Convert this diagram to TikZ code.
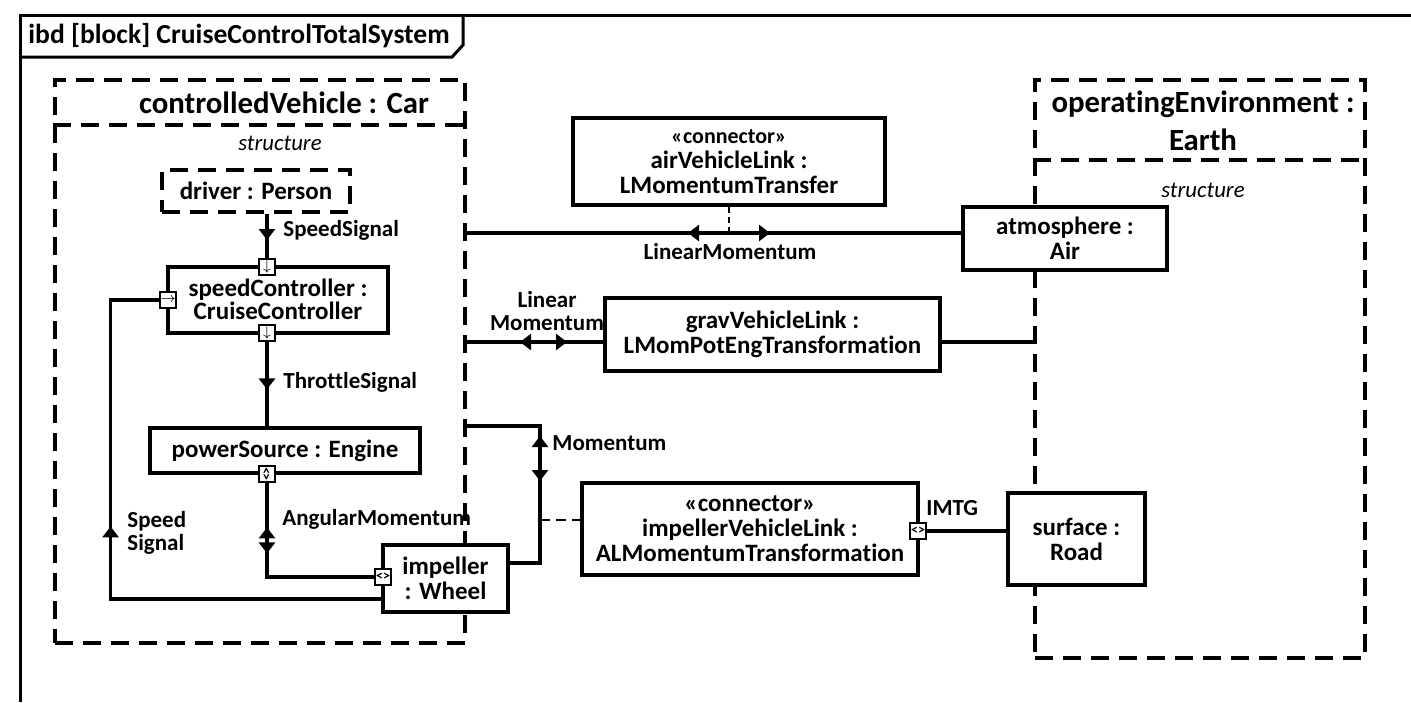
\documentclass[tikz,border=0pt]{standalone}
\usepackage{fontspec}
\setmainfont{Carlito}[Ligatures=NoCommon]
\usetikzlibrary{arrows.meta}
\usetikzlibrary{calc}
\usetikzlibrary{positioning}
\usetikzlibrary{decorations.markings}

\begin{document}
\begin{tikzpicture}[
        x=0.5pt, y=-0.5pt,
        flow/.tip={Triangle[length=5.5pt, width=8pt]},
        partbox/.style={
            rectangle, draw=black, line width=2pt, fill=white,
            align=center, inner sep=0pt,
            font=\bfseries\fontsize{12.5}{12.5}\selectfont,
        },
        dashbox/.style={partbox, fill=none, dash pattern=on 9pt off 5pt},
        port/.style={
            rectangle, draw=black, fill=white, line width=1.4pt,
            minimum size=8pt, inner sep=0pt,
            font=\bfseries\fontsize{7}{7}\selectfont,
        },
        wire/.style={line width=1.6pt},
        flowlbl/.style={
            font=\bfseries\fontsize{11.5}{11.5}\selectfont,
            align=left, inner sep=1pt,
        },
        marks/.style={postaction={decorate}, decoration={markings, #1}},
    ]
        \useasboundingbox (0,0) rectangle (1411,702);

        % diagram frame
        \draw[line width=1.5pt] (20,702) -- (20,15) -- (1411,15);
        \draw[line width=1.5pt] (20,57) -- (452,57) -- (463,45) -- (463,15);
        \node (title) at(28,36) [
            anchor=west, inner sep=0pt,
            font=\bfseries\fontsize{13.8}{14}\selectfont,
        ] {ibd [block] CruiseControlTotalSystem};

        % controlledVehicle
        \node (cv) at(260,361.5) [
            dashbox, minimum width=205pt, minimum height=281.5pt,
        ] {};
        \draw[line width=2pt, dash pattern=on 9pt off 5pt] (cv.west |- 0,125) -- (cv.east |- 0,125);
        \node (cvhead) at(284,103) [
            font=\bfseries\fontsize{15.4}{16}\selectfont,
        ] {controlledVehicle : Car};
        \node (cvstruct) at(280,143) [
            font=\itshape\fontsize{11.4}{12}\selectfont,
        ] {structure};

        % operatingEnvironment
        \node (oe) at(1200,369) [
            dashbox, minimum width=165pt, minimum height=289pt,
        ] {};
        \draw[line width=2pt, dash pattern=on 9pt off 5pt] (oe.west |- 0,160) -- (oe.east |- 0,160);
        \node (oehead) at(1203,121) [
            align=center, font=\bfseries\fontsize{15.4}{19}\selectfont,
        ] {operatingEnvironment :\\Earth};
        \node (oestruct) at(1203,190) [
            font=\itshape\fontsize{11.4}{12}\selectfont,
        ] {structure};

        % parts
        \node (driver) at(256,191) [
            dashbox, minimum width=94pt, minimum height=21pt,
        ] {driver : Person};
        \node (spc) at(278,300) [
            partbox, minimum width=110pt, minimum height=33pt,
            font=\bfseries\fontsize{12.5}{11.5}\selectfont, text depth=1pt,
        ] {speedController :\\CruiseController};
        \node (eng) at(285,450.5) [
            partbox, minimum width=135pt, minimum height=22.5pt,
        ] {powerSource : Engine};
        \node (imp) at(445.5,578.5) [
            partbox, minimum width=62.5pt, minimum height=33.5pt,
        ] {impeller\\: Wheel};
        \node (atm) at(1065,238.5) [
            partbox, minimum width=102pt, minimum height=31.5pt,
        ] {atmosphere :\\Air};
        \node (surf) at(1076.5,539) [
            partbox, minimum width=68.5pt, minimum height=46pt,
        ] {surface :\\Road};
        \node (airlink) at(729,161.5) [
            partbox, minimum width=156pt, minimum height=43.5pt,
        ] {{\fontsize{11}{11}\selectfont «connector»}\\airVehicleLink :\\LMomentumTransfer};
        \node (grav) at(772.5,334.5) [
            partbox, minimum width=167.5pt, minimum height=36.5pt,
        ] {gravVehicleLink :\\LMomPotEngTransformation};
        \node (implink) at(750,529) [
            partbox, minimum width=168pt, minimum height=46pt,
        ] {«connector»\\impellerVehicleLink :\\ALMomentumTransformation};

        % ports
        \node (p1) at(267,267) [port] {$\downarrow$};
        \node (p2) at(267,333) [port] {$\downarrow$};
        \node (p3) at(168,300) [port] {$\rightarrow$};
        \node (p4) at(267,474) [port] {\rotatebox{90}{<>}};
        \node (p5) at(383,577) [port] {<>};
        \node (p6) at(918,531) [port] {<>};

        \coordinate (cvair) at(465,233);
        \coordinate (cvgrav) at(465,342);
        \coordinate (cvmom) at(465,426);
        \coordinate (momtap) at(540,520);
        \coordinate (oegrav) at(1035,342);

        % connectors
        \draw[wire, marks={mark=at position 13pt with {\arrow{flow}}}]
            (driver.south -| p1) -- (p1);
        \draw[wire, marks={mark=at position 23.5pt with {\arrow{flow}}}]
            (p2) -- (p2 |- eng.north);
        \draw[wire, marks={mark=at position 22pt with {\arrowreversed{flow}},
                           mark=at position 35pt with {\arrow{flow}}}]
            (p4) -- (p4 |- p5) -- (p5);
        \draw[wire, marks={mark=at position 171.5pt with {\arrow{flow}}}]
            ($(imp.south west)+(0,-15)$) -| ($(p3.west)+(-48,0)$) -- (p3);
        \draw[wire, marks={mark=at position 56pt with {\arrowreversed{flow}},
                           mark=at position 78.5pt with {\arrow{flow}}}]
            ($(imp.north east)+(0,20)$) -| (cvmom -| momtap) -- (cvmom);
        \draw[line width=1.2pt, dash pattern=on 5pt off 3pt] (momtap) -- (implink.west |- momtap);
        \draw[wire, marks={mark=at position 111.5pt with {\arrowreversed{flow}},
                           mark=at position 152.5pt with {\arrow{flow}}}]
            (cvair) -- (atm.west |- cvair);
        \draw[line width=1.2pt, dash pattern=on 3pt off 2pt] (airlink.south) -- (airlink.south |- cvair);
        \draw[wire, marks={mark=at position 27.5pt with {\arrowreversed{flow}},
                           mark=at position 51pt with {\arrow{flow}}}]
            (cvgrav) -- (grav.west |- cvgrav);
        \draw[wire] (grav.east |- cvgrav) -- (oegrav);
        \draw[wire] (p6) -- (surf.west |- p6);

        % connector labels
        \node (lspeed) at(281,230) [flowlbl, anchor=west] {SpeedSignal};
        \node (lthrottle) at(281,382) [flowlbl, anchor=west] {ThrottleSignal};
        \node (langular) at(280,519) [flowlbl, anchor=west] {AngularMomentum};
        \node (lfeedback) at(125,533) [flowlbl, anchor=west] {Speed\\Signal};
        \node (lmom) at(550,443) [flowlbl, anchor=west] {Momentum};
        \node (lair) at(730,252) [flowlbl] {LinearMomentum};
        \node (lgrav) at(547,311) [flowlbl, align=center] {Linear\\Momentum};
        \node (limtg) at(924,508) [flowlbl, anchor=west] {IMTG};
    \end{tikzpicture}
\end{document}
